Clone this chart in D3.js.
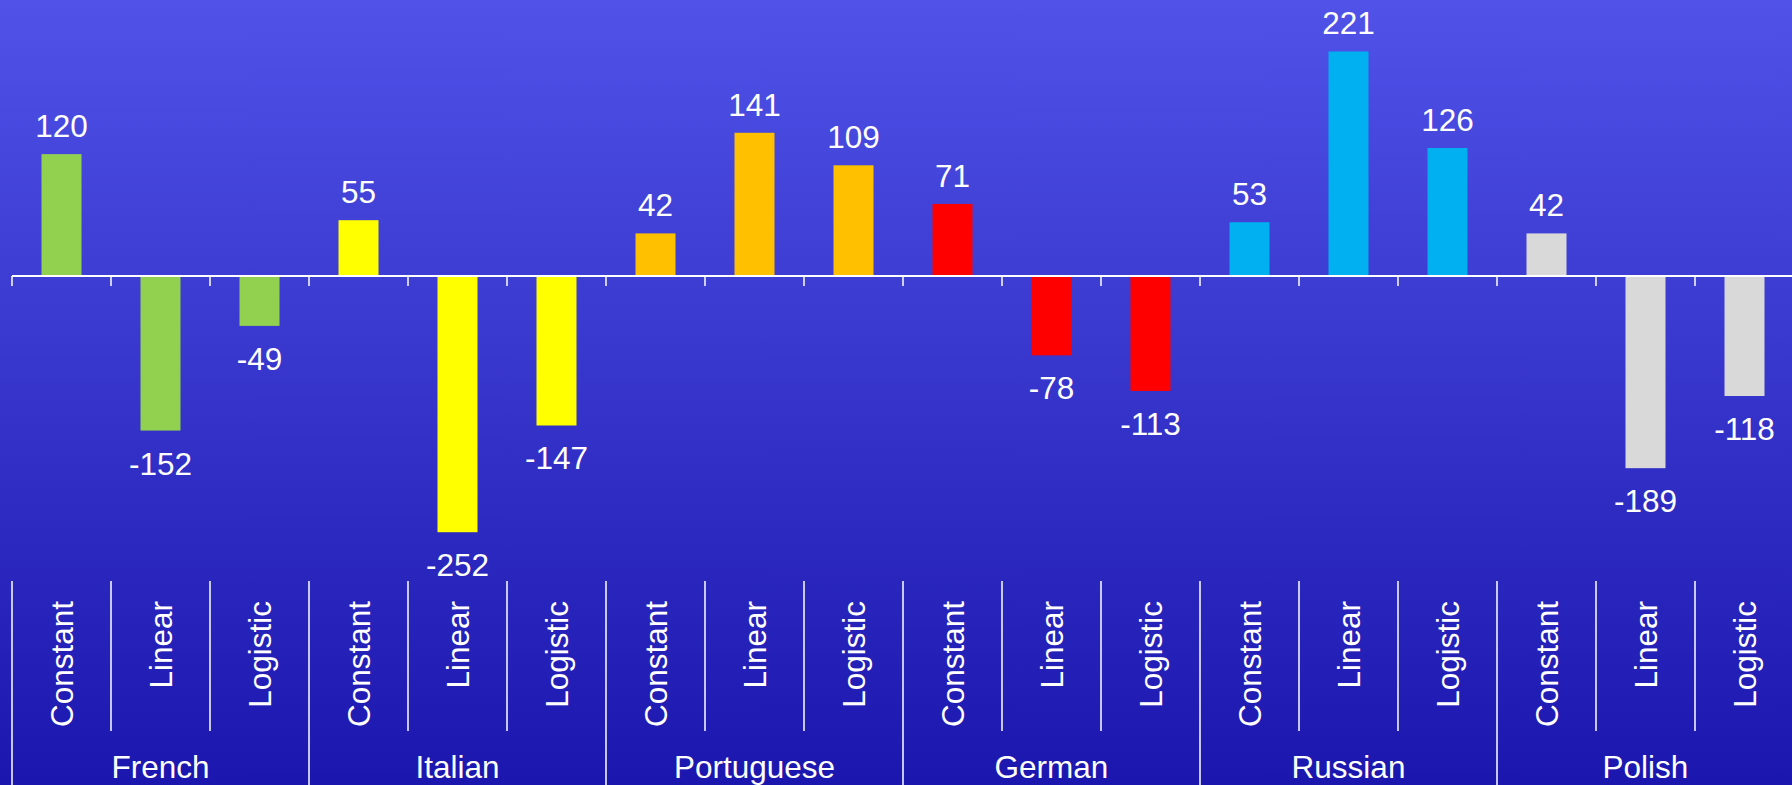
<!DOCTYPE html>
<html><head><meta charset="utf-8">
<script src="https://cdn.jsdelivr.net/npm/d3@7"></script>
<style>html,body{margin:0;padding:0;overflow:hidden;background:#3b37d2;}</style>
</head><body>
<svg id="chart" width="1792" height="785"></svg>
<script>
const groups = ["French","Italian","Portuguese","German","Russian","Polish"];
const methods = ["Constant","Linear","Logistic"];
const groupColors = ["#92d050","#ffff00","#ffc000","#ff0000","#00b0f0","#d9d9d9"];
const frenchValues = [120,-152,-49];
const italianValues = [55,-252,-147];
const portugueseValues = [42,141,109];
const germanValues = [71,-78,-113];
const russianValues = [53,221,126];
const polishValues = [42,-189,-118];
const seriesValues = [frenchValues,italianValues,portugueseValues,germanValues,russianValues,polishValues];

const W=1792,H=785;
const svg=d3.select("#chart");
const defs=svg.append("defs");
const grad=defs.append("linearGradient").attr("id","bg").attr("x1",0).attr("y1",0).attr("x2",0).attr("y2",1);
grad.append("stop").attr("offset","0%").attr("stop-color","#5052e8");
grad.append("stop").attr("offset","100%").attr("stop-color","#1b16ae");
svg.append("rect").attr("width",W).attr("height",H).attr("fill","url(#bg)");

const data=[];
groups.forEach((g,gi)=>methods.forEach((m,mi)=>data.push({g,gi,m,key:g+"|"+m,v:seriesValues[gi][mi]})));

const x0=12, band=99;
const x=d3.scaleBand().domain(data.map(d=>d.key)).range([x0,x0+band*data.length]).paddingInner(0).paddingOuter(0);
const y=d3.scaleLinear().domain([-300,250]).range([581,22]);
const barW=40;
const font="'Liberation Sans', Arial, sans-serif";
const fs="31.5px";

svg.append("g").selectAll("rect").data(data).join("rect")
  .attr("x",d=>x(d.key)+(x.bandwidth()-barW)/2)
  .attr("y",d=>Math.min(y(d.v),y(0)))
  .attr("width",barW)
  .attr("height",d=>Math.abs(y(d.v)-y(0)))
  .attr("fill",d=>groupColors[d.gi]);

// axis line at zero with ticks at band boundaries
const axisG=svg.append("g");
axisG.append("line").attr("x1",x0).attr("x2",x0+band*data.length).attr("y1",y(0)).attr("y2",y(0))
  .attr("stroke","#fff").attr("stroke-width",2);
const bounds=d3.range(data.length+1).map(i=>x0+i*band);
axisG.selectAll("line.tk").data(bounds).join("line").attr("class","tk")
  .attr("x1",d=>d).attr("x2",d=>d).attr("y1",y(0)).attr("y2",y(0)+10)
  .attr("stroke","#fff").attr("stroke-width",1.5);

// value labels
svg.append("g").selectAll("text").data(data).join("text")
  .attr("x",d=>x(d.key)+x.bandwidth()/2)
  .attr("y",d=>d.v>=0? y(d.v)-17 : y(d.v)+44)
  .attr("text-anchor","middle").attr("fill","#fff")
  .style("font-family",font).style("font-size",fs)
  .text(d=>d.v);

// category labels (rotated)
const lab=svg.append("g");
lab.selectAll("text").data(data).join("text")
  .attr("transform",d=>`translate(${x(d.key)+x.bandwidth()/2},601) rotate(-90)`)
  .attr("text-anchor","end").attr("dy","0.35em").attr("fill","#fff")
  .style("font-family",font).style("font-size",fs)
  .text(d=>d.m);
// separators
lab.selectAll("line").data(bounds).join("line")
  .attr("x1",d=>d).attr("x2",d=>d).attr("y1",581)
  .attr("y2",(d,i)=> i%3===0 ? H : 731)
  .attr("stroke","#fff").attr("stroke-width",1.5);
// group labels
svg.append("g").selectAll("text").data(groups).join("text")
  .attr("x",(g,i)=>x0+band*(3*i+1.5))
  .attr("y",778)
  .attr("text-anchor","middle").attr("fill","#fff")
  .style("font-family",font).style("font-size",fs)
  .text(g=>g);
</script>
</body></html>
